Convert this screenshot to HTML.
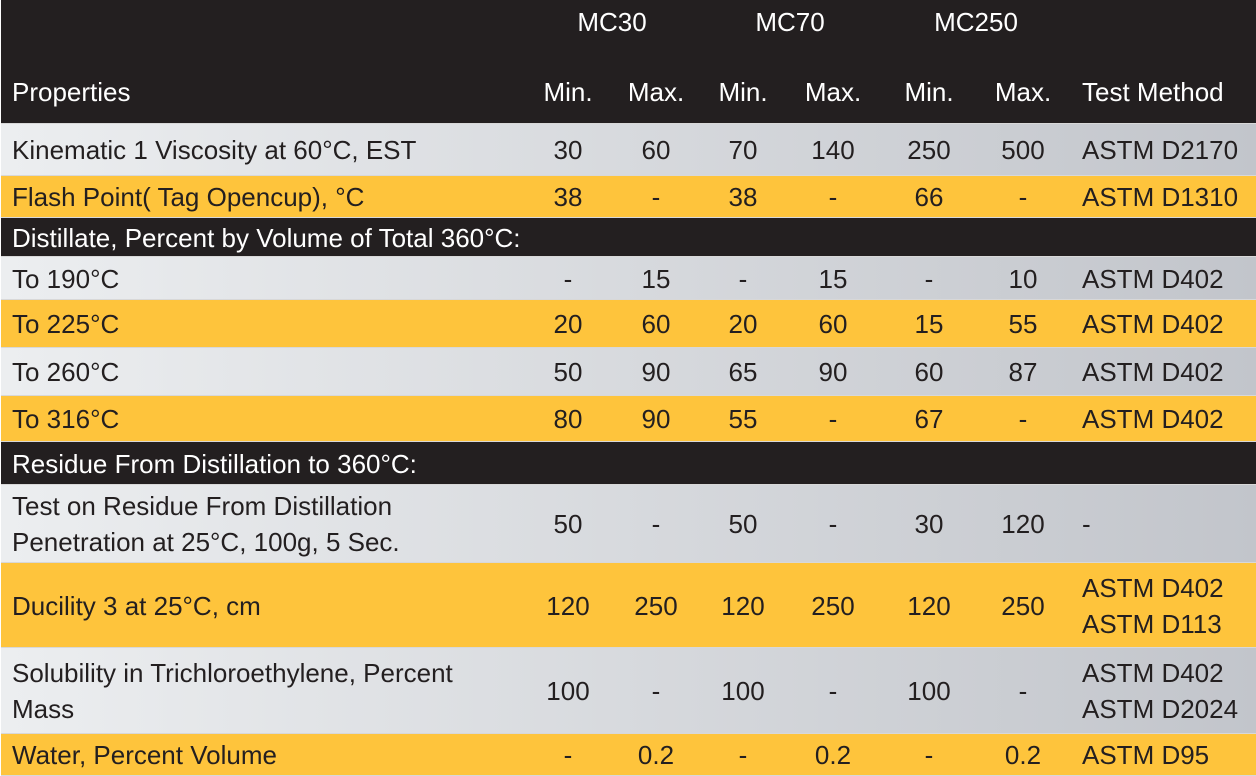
<!DOCTYPE html>
<html><head><meta charset="utf-8"><style>
body{margin:0;width:1256px;height:776px;overflow:hidden;background:#fff;font-family:"Liberation Sans",sans-serif;font-size:26px;color:#231f20}
.r{position:absolute;left:1px;width:1255px;border-bottom:1px solid #d8d8d8;box-sizing:border-box}
.g{background:linear-gradient(90deg,#eceef0,#c2c5cb)}
.y{background:#fec43c}
.b{background:#231f20;color:#fff}
.t{position:absolute;white-space:nowrap;line-height:30px}
.c{position:absolute;transform:translateX(-50%);white-space:nowrap;line-height:30px}
</style></head><body>
<div class="r b" style="top:0;height:124px">
<div class="c" style="left:611px;top:7px">MC30</div>
<div class="c" style="left:789px;top:7px">MC70</div>
<div class="c" style="left:975px;top:7px">MC250</div>
<div class="t" style="left:11px;top:77px">Properties</div>
<div class="c" style="left:567px;top:77px">Min.</div>
<div class="c" style="left:655px;top:77px">Max.</div>
<div class="c" style="left:742px;top:77px">Min.</div>
<div class="c" style="left:832px;top:77px">Max.</div>
<div class="c" style="left:928px;top:77px">Min.</div>
<div class="c" style="left:1022px;top:77px">Max.</div>
<div class="t" style="left:1081px;top:77px">Test Method</div>
</div>
<div id="rows"></div>
<script>
const rows=[
["g",124,52,["Kinematic 1 Viscosity at 60°C, EST"],["30","60","70","140","250","500"],["ASTM D2170"]],
["y",176,42,["Flash Point( Tag Opencup), °C"],["38","-","38","-","66","-"],["ASTM D1310"]],
["b",218,39,["Distillate, Percent by Volume of Total 360°C:"],[],[]],
["g",257,43,["To 190°C"],["-","15","-","15","-","10"],["ASTM D402"]],
["y",300,48,["To 225°C"],["20","60","20","60","15","55"],["ASTM D402"]],
["g",348,48,["To 260°C"],["50","90","65","90","60","87"],["ASTM D402"]],
["y",396,46,["To 316°C"],["80","90","55","-","67","-"],["ASTM D402"]],
["b",442,43,["Residue From Distillation to 360°C:"],[],[]],
["g",485,78,["Test on Residue From Distillation","Penetration at 25°C, 100g, 5 Sec."],["50","-","50","-","30","120"],["-"]],
["y",563,85,["Ducility 3 at 25°C, cm"],["120","250","120","250","120","250"],["ASTM D402","ASTM D113"]],
["g",648,86,["Solubility in Trichloroethylene, Percent","Mass"],["100","-","100","-","100","-"],["ASTM D402","ASTM D2024"]],
["y",734,42,["Water, Percent Volume"],["-","0.2","-","0.2","-","0.2"],["ASTM D95"]]
];
const xs=[567,655,742,832,928,1022];
let h="";
for(const [cl,top,ht,lab,v,tm] of rows){
 h+=`<div class="r ${cl}" style="top:${top}px;height:${ht}px">`;
 const lh=36;
 const ly=(ht-lab.length*lh)/2+(lh-30)/2;
 lab.forEach((s,i)=>h+=`<div class="t" style="left:11px;top:${ly+i*lh}px">${s}</div>`);
 const vy=(ht-30)/2;
 v.forEach((s,i)=>h+=`<div class="c" style="left:${xs[i]}px;top:${vy}px">${s}</div>`);
 const ty=(ht-tm.length*lh)/2+(lh-30)/2;
 tm.forEach((s,i)=>h+=`<div class="t" style="left:1081px;top:${ty+i*lh}px">${s}</div>`);
 h+="</div>";
}
document.getElementById("rows").innerHTML=h;
</script>
</body></html>
